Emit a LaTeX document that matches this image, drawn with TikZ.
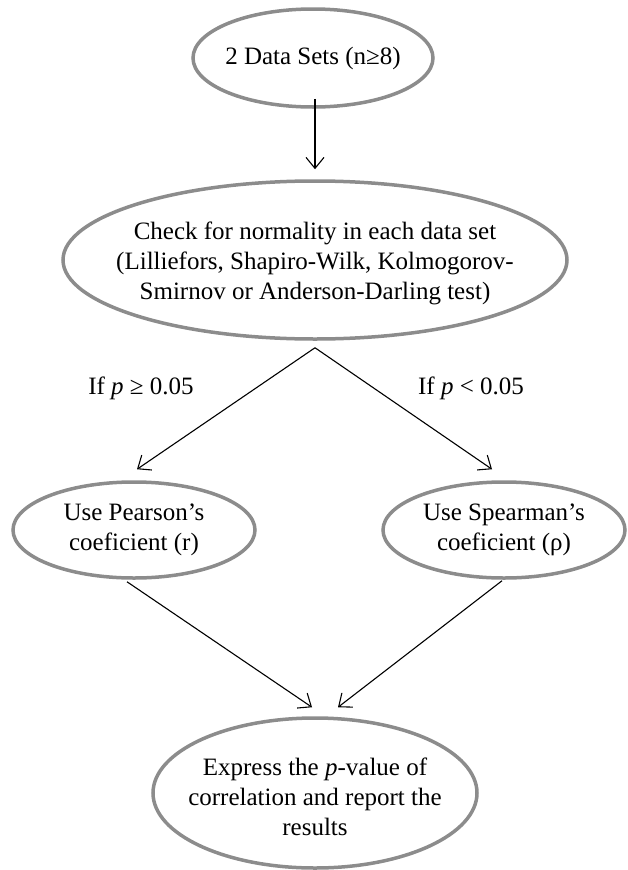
\documentclass[tikz,border=0pt]{standalone}
\usepackage{fontspec}
\setmainfont{Liberation Serif}
\usetikzlibrary{shapes.geometric,arrows.meta}
\definecolor{ovalgray}{RGB}{140,140,140}

\begin{document}
\begin{tikzpicture}[x=1pt,y=-1pt,
  oval/.style={draw=ovalgray,line width=3.5pt,ellipse,inner sep=0pt},
  txt/.style={font=\fontsize{25}{30}\selectfont,align=center,inner sep=0pt},
  flow/.style={draw=black,line width=1.1pt,-{Straight Barb[length=11pt,width=18pt]}}]
\useasboundingbox (0,0) rectangle (627,870);
% ovals
\node [oval,minimum width=240pt,minimum height=98pt] (sets) at (313,58) {};
\node [txt] (setsT) at (sets) {2 Data Sets (n≥8)};
\node [oval,minimum width=504pt,minimum height=158pt] (check) at (315,260) {};
\node [txt] (checkT) at ([yshift=-3]check.center) {Check for normality in each data set\\(Lilliefors, Shapiro-Wilk, Kolmogorov-\\Smirnov or Anderson-Darling test)};
\node [oval,minimum width=242pt,minimum height=96pt] (pear) at (134,530) {};
\node [txt] (pearT) at (pear) {Use Pearson’s\\coeficient (r)};
\node [oval,minimum width=242pt,minimum height=96pt] (spear) at (504,530) {};
\node [txt] (spearT) at (spear) {Use Spearman’s\\coeficient (ρ)};
\node [oval,minimum width=324pt,minimum height=150pt] (report) at (315,793) {};
\node [txt] (reportT) at ([yshift=-4]report.center) {Express the \textit{p}-value of\\correlation and report the\\results};
% branch labels
\node [txt] (ge) at (141,388) {If \textit{p} ≥ 0.05};
\node [txt] (lt) at (471,388) {If \textit{p} < 0.05};
% arrows
\coordinate (fork) at ([yshift=-7]check.south);
\draw [flow] ([xshift=2,yshift=10]sets.south) -- ([yshift=10]check.north);
\draw [flow] (fork) -- ([xshift=3,yshift=11]pear.north);
\draw [flow] (fork) -- ([xshift=-12,yshift=11]spear.north);
\draw [flow] ([xshift=-7,yshift=-2]pear.south) -- ([xshift=-3,yshift=9]report.north);
\draw [flow] ([xshift=-2,yshift=-1]spear.south) -- ([xshift=23,yshift=9]report.north);
\end{tikzpicture}
\end{document}
